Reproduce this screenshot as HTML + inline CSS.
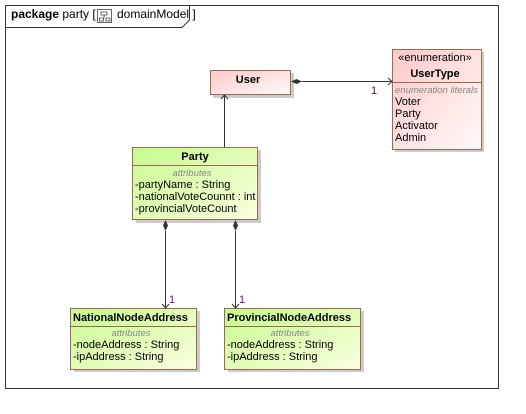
<!DOCTYPE html>
<html><head><style>
body{margin:0;background:#fff}
svg{display:block;font-family:"Liberation Sans",Arial,sans-serif}
</style></head><body>
<svg width="526" height="414" viewBox="0 0 526 414" xmlns="http://www.w3.org/2000/svg">
<defs>
<linearGradient id="pk" x1="0" y1="0" x2="1" y2="1"><stop offset="0" stop-color="#ffc8c8"/><stop offset="1" stop-color="#fffafa"/></linearGradient>
<linearGradient id="gr" x1="0" y1="0" x2="1" y2="1"><stop offset="0" stop-color="#c6fa8e"/><stop offset="1" stop-color="#fbffe0"/></linearGradient>
</defs>
<rect x="5.5" y="5.5" width="493" height="383" fill="#fff" stroke="#333"/>
<path d="M5.5 27.5 H182 L189.5 20 V5.5" fill="none" stroke="#333"/>
<text x="11" y="18" font-size="12"><tspan font-weight="bold">package</tspan>  party [</text>
<rect x="97.5" y="9.5" width="14" height="13" fill="#fff" stroke="#666"/>
<path d="M101 12h6v3h-6zM99.5 18h4v3h-4zM106 18h4v3h-4zM104 15v3" fill="none" stroke="#444" stroke-width="0.8"/>
<text x="117" y="18" font-size="12">domainModel ]</text>
<!-- shadows -->
<rect x="213" y="73" width="81" height="25" fill="#ccc"/>
<rect x="395" y="52" width="89" height="100" fill="#ccc"/>
<rect x="136" y="150" width="125" height="73" fill="#ccc"/>
<rect x="74" y="311" width="126" height="61" fill="#ccc"/>
<rect x="228" y="311" width="136" height="61" fill="#ccc"/>
<!-- User -->
<rect x="210.5" y="70.5" width="80" height="24" fill="url(#pk)" stroke="#9a6a50"/>
<text x="248" y="83" font-size="11" font-weight="bold" text-anchor="middle">User</text>
<!-- UserType -->
<rect x="392.5" y="49.5" width="89" height="100" fill="url(#pk)" stroke="#9a6a50"/>
<line x1="392.5" y1="82.5" x2="481.5" y2="82.5" stroke="#9a6a50"/>
<text x="435" y="61" font-size="11" text-anchor="middle">«enumeration»</text>
<text x="435" y="77" font-size="11" font-weight="bold" text-anchor="middle">UserType</text>
<text x="395" y="93" font-size="9.5" font-style="italic" fill="#888">enumeration literals</text>
<g font-size="11"><text x="395" y="105">Voter</text><text x="395" y="117">Party</text><text x="395" y="129">Activator</text><text x="395" y="141">Admin</text></g>
<!-- Party -->
<rect x="132.5" y="147.5" width="125" height="72" fill="url(#gr)" stroke="#9a6a50"/>
<line x1="132.5" y1="165.5" x2="257.5" y2="165.5" stroke="#9a6a50"/>
<text x="195" y="160" font-size="11" font-weight="bold" text-anchor="middle">Party</text>
<text x="192" y="176" font-size="9.5" font-style="italic" fill="#888" text-anchor="middle">attributes</text>
<g font-size="11"><text x="135" y="188">-partyName : String</text><text x="135" y="200">-nationalVoteCounnt : int</text><text x="135" y="212">-provincialVoteCount</text></g>
<!-- National -->
<rect x="70.5" y="308.5" width="126" height="61" fill="url(#gr)" stroke="#9a6a50"/>
<line x1="70.5" y1="326.5" x2="196.5" y2="326.5" stroke="#9a6a50"/>
<text x="73" y="321" font-size="11" font-weight="bold">NationalNodeAddress</text>
<text x="131" y="336" font-size="9.5" font-style="italic" fill="#888" text-anchor="middle">attributes</text>
<g font-size="11"><text x="73" y="348">-nodeAddress : String</text><text x="73" y="360">-ipAddress : String</text></g>
<!-- Provincial -->
<rect x="224.5" y="308.5" width="136" height="61" fill="url(#gr)" stroke="#9a6a50"/>
<line x1="224.5" y1="326.5" x2="360.5" y2="326.5" stroke="#9a6a50"/>
<text x="227" y="321" font-size="11" font-weight="bold">ProvincialNodeAddress</text>
<text x="290" y="336" font-size="9.5" font-style="italic" fill="#888" text-anchor="middle">attributes</text>
<g font-size="11"><text x="227" y="348">-nodeAddress : String</text><text x="227" y="360">-ipAddress : String</text></g>
<!-- connectors -->
<g stroke="#333" fill="none">
<line x1="224.5" y1="147" x2="224.5" y2="95"/>
<path d="M221 99 L224.5 95 L228 99"/>
<line x1="302" y1="81.5" x2="392" y2="81.5"/>
<path d="M388 78 L392 81.5 L388 85"/>
<line x1="165.5" y1="231" x2="165.5" y2="308"/>
<path d="M162 304 L165.5 308 L169 304"/>
<line x1="235.5" y1="231" x2="235.5" y2="308"/>
<path d="M232 304 L235.5 308 L239 304"/>
</g>
<g fill="#333">
<path d="M291 81.5 L296.5 79 L302 81.5 L296.5 84 Z"/>
<path d="M165.5 220 L168 225.5 L165.5 231 L163 225.5 Z"/>
<path d="M235.5 220 L238 225.5 L235.5 231 L233 225.5 Z"/>
</g>
<text x="371" y="94" font-size="11" fill="#401040">1</text>
<text x="169" y="303" font-size="11" fill="#602060">1</text>
<text x="239" y="303" font-size="11" fill="#602060">1</text>
</svg>
</body></html>
